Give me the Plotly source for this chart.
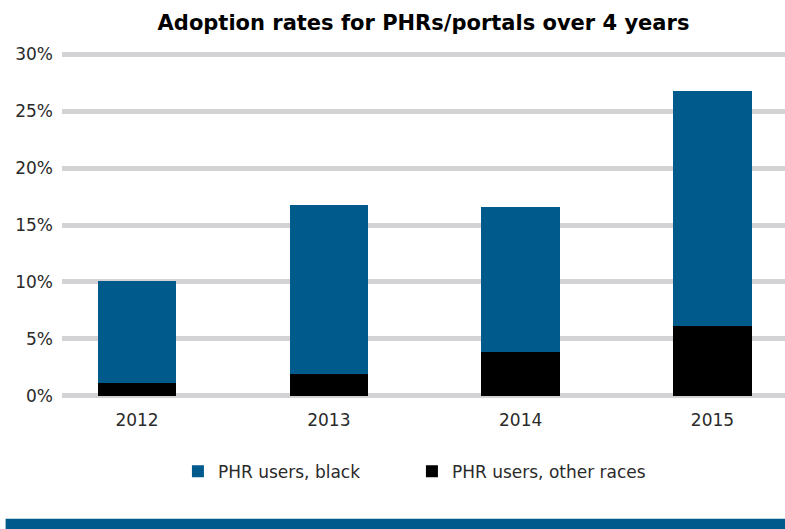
import plotly.graph_objects as go

years = ["2012", "2013", "2014", "2015"]
other_races = [1.12, 1.93, 3.84, 6.15]
black = [8.98, 14.80, 12.71, 20.65]
y_ticks = [0, 5, 10, 15, 20, 25, 30]
y_tick_labels = ["0%", "5%", "10%", "15%", "20%", "25%", "30%"]

BLUE = "#015a8c"
GRID = "#d3d3d5"
FONT = "DejaVu Sans, Arial, sans-serif"

fig = go.Figure()
fig.add_trace(go.Bar(x=years, y=other_races, name="PHR users, other races",
                     marker=dict(color="#000000", line=dict(width=0)), width=0.41))
fig.add_trace(go.Bar(x=years, y=black, name="PHR users, black",
                     marker=dict(color=BLUE, line=dict(width=0)), width=0.41))

fig.update_layout(
    width=785, height=529,
    barmode="stack",
    paper_bgcolor="white", plot_bgcolor="white",
    margin=dict(l=62, r=0, t=50, b=129),
    font=dict(family=FONT, size=17, color="#2a2a2a"),
    title=dict(text="<b>Adoption rates for PHRs/portals over 4 years</b>",
               x=0.5, xref="paper", xanchor="center", y=0.958, yref="container", yanchor="middle",
               font=dict(family=FONT, size=21, color="#000000")),
    showlegend=True,
    legend=dict(orientation="h", traceorder="reversed", x=0.484, xanchor="center",
                y=-0.205, yanchor="middle", font=dict(size=17, color="#2a2a2a"),
                entrywidth=189, entrywidthmode="pixels",
                bgcolor="rgba(0,0,0,0)"),
    xaxis=dict(type="category", range=[-0.391, 3.378], showgrid=False, zeroline=False,
               showline=False, ticks="", ticklabelstandoff=8),
    yaxis=dict(range=[-0.378, 30.378], tickvals=y_ticks, ticktext=y_tick_labels,
               showgrid=True, gridcolor=GRID, gridwidth=5, zeroline=False,
               showline=False, ticks="", ticklabelstandoff=8),
    bargap=0.59,
    shapes=[dict(type="rect", xref="paper", yref="paper", x0=-0.078, x1=1.0,
                 y0=-0.339, y1=-0.38, fillcolor=BLUE, line=dict(width=0))],
)

fig.write_html("out.html", config={"displayModeBar": False},
               post_script="document.body.style.margin='0';document.body.style.padding='0';")
